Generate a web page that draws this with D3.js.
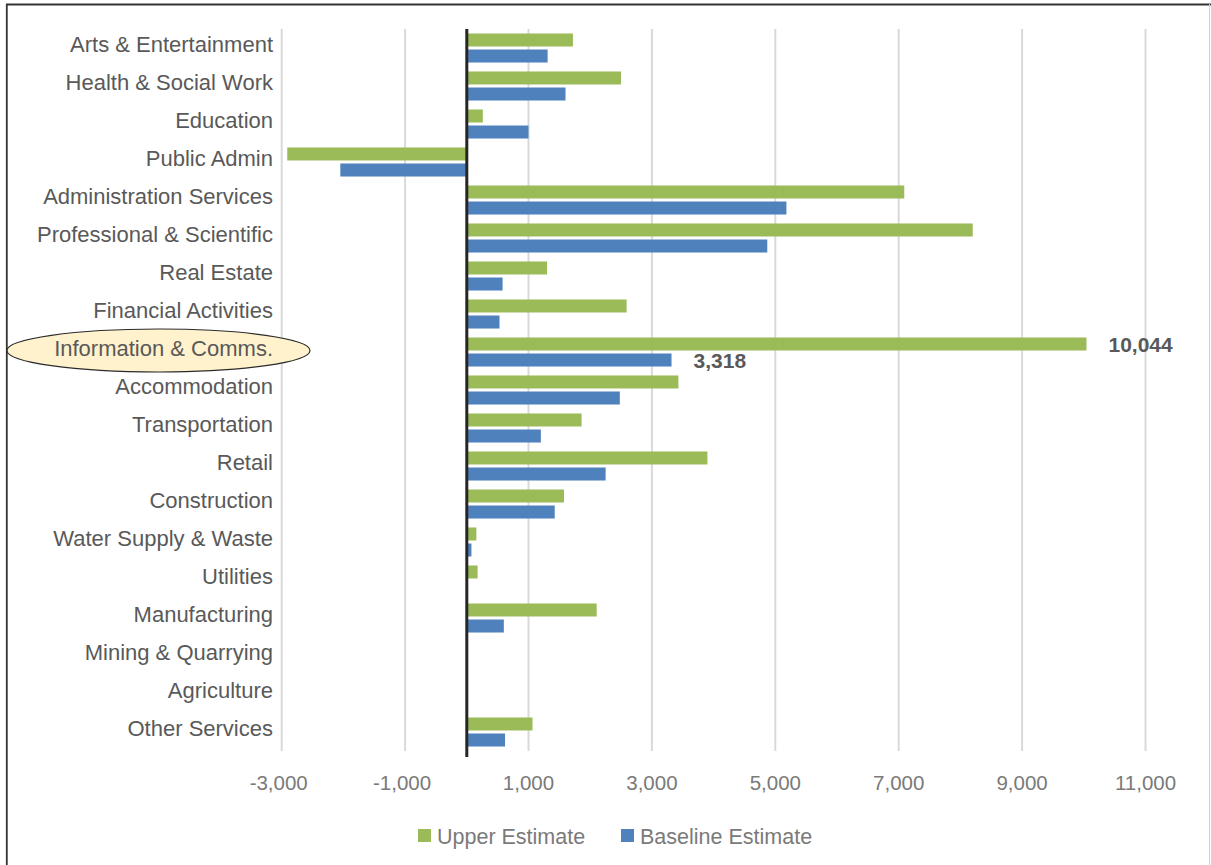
<!DOCTYPE html>
<html>
<head>
<meta charset="utf-8">
<script src="https://cdn.jsdelivr.net/npm/d3@7"></script>
<style>
  html, body { margin: 0; padding: 0; background: #fff; }
  svg { display: block; }
</style>
</head>
<body>
<script>
// Industry sectors, top to bottom
const categories = [
  "Arts & Entertainment", "Health & Social Work", "Education", "Public Admin",
  "Administration Services", "Professional & Scientific", "Real Estate",
  "Financial Activities", "Information & Comms.", "Accommodation",
  "Transportation", "Retail", "Construction", "Water Supply & Waste",
  "Utilities", "Manufacturing", "Mining & Quarrying", "Agriculture", "Other Services"
];

// Job estimates per sector
const upperEstimate = [1720, 2500, 260, -2910, 7090, 8200, 1300, 2590, 10044, 3430,
                       1860, 3900, 1575, 155, 175, 2105, 0, 0, 1065];
const baselineEstimate = [1310, 1600, 1000, -2050, 5180, 4870, 580, 530, 3318, 2480,
                          1200, 2250, 1425, 75, 0, 600, 0, 0, 620];

const tickValues = [-3000, -1000, 1000, 3000, 5000, 7000, 9000, 11000];
const seriesNames = ["Upper Estimate", "Baseline Estimate"];
const seriesColors = ["#9BBB59", "#4F81BD"];
const highlighted = "Information & Comms.";

const W = 1211, H = 865;
const fmt = v => d3.format(",")(v).replace("\u2212", "-");
const svg = d3.select("body").append("svg").attr("width", W).attr("height", H);

// Frame
svg.append("line").attr("x1", 6).attr("x2", W).attr("y1", 4.5).attr("y2", 4.5)
  .attr("stroke", "#333").attr("stroke-width", 1.8);
svg.append("line").attr("x1", 6.8).attr("x2", 6.8).attr("y1", 4).attr("y2", H)
  .attr("stroke", "#333").attr("stroke-width", 1.8);
svg.append("line").attr("x1", 1209.5).attr("x2", 1209.5).attr("y1", 4).attr("y2", H)
  .attr("stroke", "#cfcfcf").attr("stroke-width", 1);

const x = d3.scaleLinear().domain([-3000, 11000]).range([281.7, 1145.5]);
const y = d3.scaleBand().domain(categories).range([29, 751]).paddingInner(0).paddingOuter(0);
const sub = d3.scaleBand().domain(seriesNames).range([0, y.bandwidth()])
  .paddingInner(0.1875).paddingOuter(0.28);

// Vertical gridlines
svg.append("g").selectAll("line").data(tickValues).join("line")
  .attr("x1", d => x(d)).attr("x2", d => x(d))
  .attr("y1", 29).attr("y2", 751)
  .attr("stroke", "#d9d9d9").attr("stroke-width", 2);

// Tick labels
svg.append("g").selectAll("text").data(tickValues).join("text")
  .attr("x", d => x(d) - (d < 0 ? 3 : 0)).attr("y", 783).attr("dy", "0.36em")
  .attr("text-anchor", "middle")
  .attr("font-family", "'Liberation Sans', Arial, sans-serif")
  .attr("font-size", 20.5).attr("fill", "#7a7a7a")
  .text(d => fmt(d));

// Bars
const rows = categories.map((c, i) => ({ cat: c, vals: [upperEstimate[i], baselineEstimate[i]] }));
const groups = svg.append("g").selectAll("g").data(rows).join("g")
  .attr("transform", d => `translate(0,${y(d.cat)})`);
groups.selectAll("rect")
  .data(d => d.vals.map((v, k) => ({ v, k })).filter(e => e.v !== 0))
  .join("rect")
  .attr("x", e => x(Math.min(0, e.v)))
  .attr("width", e => Math.abs(x(e.v) - x(0)))
  .attr("y", e => sub(seriesNames[e.k]))
  .attr("height", sub.bandwidth())
  .attr("fill", e => seriesColors[e.k]);

// Zero axis line
svg.append("line").attr("x1", x(0)).attr("x2", x(0)).attr("y1", 29).attr("y2", 757)
  .attr("stroke", "#262626").attr("stroke-width", 3);

// Highlight behind the selected category label
svg.append("ellipse")
  .attr("cx", 158.5).attr("cy", y(highlighted) + y.bandwidth() / 2 - 1.5)
  .attr("rx", 151.5).attr("ry", 21.5)
  .attr("fill", "#FFF2CC").attr("stroke", "#2b2b2b").attr("stroke-width", 1.2);

// Category labels
svg.append("g").selectAll("text").data(categories).join("text")
  .attr("x", 273).attr("y", d => y(d) + y.bandwidth() / 2 + 3.8)
  .attr("text-anchor", "end")
  .attr("font-family", "'Liberation Sans', Arial, Helvetica, sans-serif")
  .attr("font-size", 22).attr("fill", "#595959")
  .text(d => d);

// Value labels for the highlighted sector
const hi = categories.indexOf(highlighted);
[upperEstimate[hi], baselineEstimate[hi]].forEach((v, k) => {
  svg.append("text")
    .attr("x", x(v) + 22)
    .attr("y", y(highlighted) + sub(seriesNames[k]) + sub.bandwidth() / 2)
    .attr("dy", "0.36em")
    .attr("font-family", "'Liberation Sans', Arial, sans-serif")
    .attr("font-weight", "bold")
    .attr("font-size", 21).attr("fill", "#595959")
    .text(fmt(v));
});

// Legend
const legendX = [418, 621];
const legend = svg.append("g").selectAll("g").data(seriesNames).join("g")
  .attr("transform", (d, i) => `translate(${legendX[i]},829)`);
legend.append("rect").attr("width", 13).attr("height", 13)
  .attr("fill", (d, i) => seriesColors[i]);
legend.append("text").attr("x", 19).attr("y", 7).attr("dy", "0.36em")
  .attr("font-family", "'Liberation Sans', Arial, sans-serif")
  .attr("font-size", 21.5).attr("fill", "#7a7a7a")
  .text(d => d);
</script>
</body>
</html>
